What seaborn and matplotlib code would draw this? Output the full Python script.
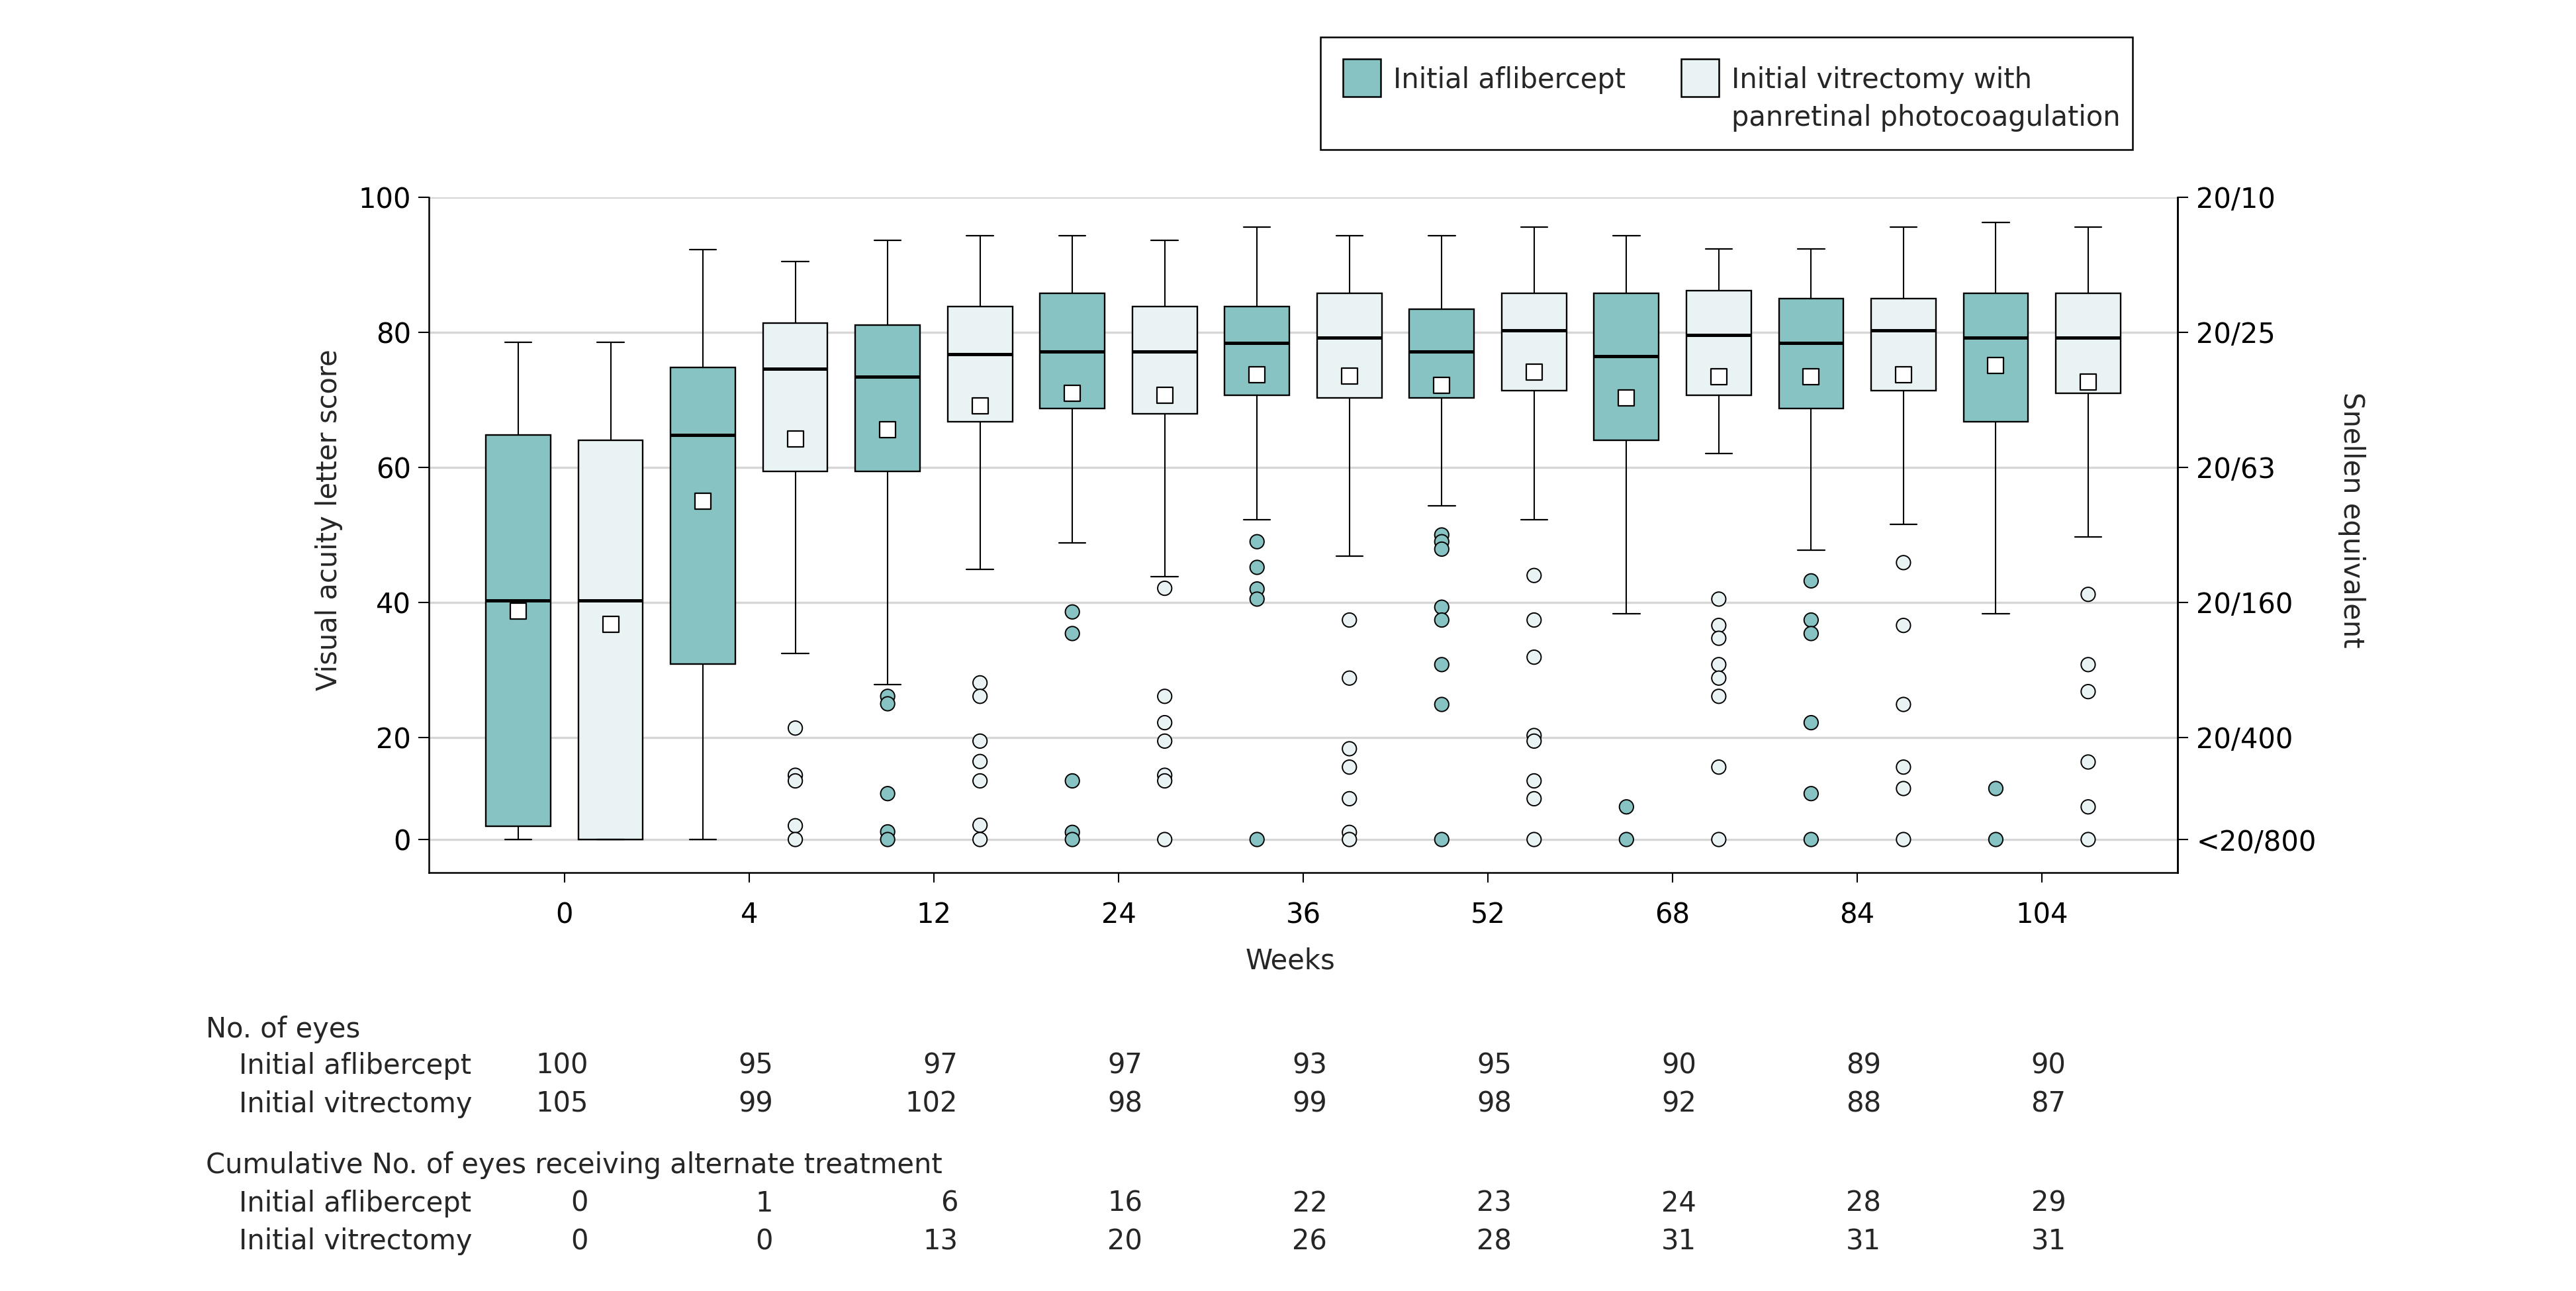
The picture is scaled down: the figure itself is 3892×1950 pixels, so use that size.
import numpy as np
import pandas as pd
import matplotlib
matplotlib.use('Agg')
import matplotlib.pyplot as plt
import matplotlib.transforms as mtransforms
from matplotlib.patches import Rectangle
import seaborn as sns

# --------------
# Data
# --------------
weeks = ['0', '4', '12', '24', '36', '52', '68', '84', '104']

# Initial aflibercept
afl_whishi = [78.5, 92.3, 93.6, 94.3, 95.6, 94.3, 94.3, 92.4, 96.3]
afl_q3 = [64.8, 74.8, 81.1, 85.8, 83.8, 83.4, 85.8, 85.0, 85.8]
afl_med = [40.3, 64.8, 73.4, 77.2, 78.4, 77.2, 76.5, 78.4, 79.2]
afl_mean = [38.7, 55.0, 65.6, 71.0, 73.7, 72.2, 70.3, 73.4, 75.1]
afl_q1 = [2.6, 30.9, 59.4, 68.7, 70.7, 70.3, 64.0, 68.7, 66.8]
afl_whislo = [0, 0, 27.8, 48.8, 52.3, 54.3, 38.3, 47.7, 38.3]
afl_out = [[], [], [26.1, 25.0, 9.0, 1.5, 0],
           [38.6, 35.4, 11.5, 1.4, 0], [49.0, 45.2, 42.0, 40.5, 0],
           [50.0, 49.0, 47.9, 39.3, 37.4, 30.8, 24.9, 0], [6.4, 0],
           [43.2, 37.4, 35.4, 22.2, 9.0, 0], [10.0, 0]]

# Initial vitrectomy with PRP
vit_whishi = [78.5, 90.5, 94.3, 93.6, 94.3, 95.6, 92.4, 95.6, 95.6]
vit_q3 = [64.0, 81.4, 83.8, 83.8, 85.8, 85.8, 86.2, 85.0, 85.8]
vit_med = [40.3, 74.6, 76.8, 77.2, 79.2, 80.3, 79.6, 80.3, 79.2]
vit_mean = [36.8, 64.2, 69.1, 70.7, 73.5, 74.1, 73.4, 73.7, 72.6]
vit_q1 = [0, 59.4, 66.8, 67.9, 70.3, 71.4, 70.7, 71.4, 71.0]
vit_whislo = [0, 32.5, 44.9, 43.8, 46.9, 52.3, 62.1, 51.6, 49.7]
vit_out = [[], [21.4, 12.6, 11.5, 2.7, 0],
           [28.1, 26.1, 19.3, 15.3, 11.5, 2.8, 0],
           [42.1, 26.1, 22.2, 19.3, 12.6, 11.5, 0],
           [37.4, 28.8, 17.8, 14.2, 8.0, 1.4, 0],
           [44.0, 37.4, 31.9, 20.3, 19.3, 11.5, 8.0, 0],
           [40.5, 36.6, 34.7, 30.8, 28.8, 26.1, 14.2, 0],
           [45.9, 36.6, 24.9, 14.2, 10.0, 0],
           [41.2, 30.8, 26.8, 15.2, 6.4, 0]]

# Table below the plot
n_afl = [100, 95, 97, 97, 93, 95, 90, 89, 90]
n_vit = [105, 99, 102, 98, 99, 98, 92, 88, 87]
alt_afl = [0, 1, 6, 16, 22, 23, 24, 28, 29]
alt_vit = [0, 0, 13, 20, 26, 28, 31, 31, 31]

y_ticks = [0, 20, 40, 60, 80, 100]
snellen_labels = ['<20/800', '20/400', '20/160', '20/63', '20/25', '20/10']

col_afl = '#87C3C2'
col_vit = '#EAF3F4'

# --------------
# Setup
# --------------
sns.set_style('white')
plt.rcParams['font.family'] = ['DejaVu Sans']
FS = 30

W, H = 3892, 1950
fig = plt.figure(figsize=(W / 100, H / 100), dpi=100)
ax = fig.add_axes([648 / W, 1 - 1318 / H, (3290 - 648) / W, (1318 - 298) / H])

# y axis is compressed between 0 and 20
K = 0.755


def fwd(v):
    v = np.asarray(v, dtype=float)
    return np.where(v >= 20, v, 20 - (20 - v) * K)


def inv(t):
    t = np.asarray(t, dtype=float)
    return np.where(t >= 20, t, 20 - (20 - t) / K)


off = 0.25
x_afl = np.arange(len(weeks)) - off
x_vit = np.arange(len(weeks)) + off


def make_stats(whislo, q1, med, q3, whishi):
    return [dict(whislo=a, q1=b, med=c, q3=d, whishi=e, fliers=[])
            for a, b, c, d, e in zip(whislo, q1, med, q3, whishi)]


stats_afl = make_stats(afl_whislo, afl_q1, afl_med, afl_q3, afl_whishi)
stats_vit = make_stats(vit_whislo, vit_q1, vit_med, vit_q3, vit_whishi)

for stats, pos, col in [(stats_afl, x_afl, col_afl), (stats_vit, x_vit, col_vit)]:
    ax.bxp(stats, positions=pos, widths=0.35, capwidths=0.145,
           patch_artist=True, showfliers=False, manage_ticks=False,
           boxprops=dict(facecolor=col, edgecolor='black', linewidth=1.7),
           whiskerprops=dict(color='black', linewidth=1.5),
           capprops=dict(color='black', linewidth=1.6),
           medianprops=dict(color='black', linewidth=3.6),
           zorder=3)

# outliers and means with seaborn
rows = []
for i in range(len(weeks)):
    for v in afl_out[i]:
        rows.append((x_afl[i], v, 'afl'))
    for v in vit_out[i]:
        rows.append((x_vit[i], v, 'vit'))
df_out = pd.DataFrame(rows, columns=['x', 'y', 'arm'])
sns.scatterplot(data=df_out, x='x', y='y', hue='arm',
                palette={'afl': col_afl, 'vit': col_vit}, s=235,
                edgecolor='black', linewidth=1.4, legend=False, zorder=4, ax=ax)

df_mean = pd.DataFrame({'x': np.concatenate([x_afl, x_vit]),
                        'y': afl_mean + vit_mean})
sns.scatterplot(data=df_mean, x='x', y='y', marker='s', color='white',
                edgecolor='black', linewidth=1.6, s=300, legend=False,
                zorder=5, ax=ax)

ax.set_yscale('function', functions=(fwd, inv))
ax.set_ylim(inv(0.0), 100)
ax.set_xlim(-0.734, len(weeks) - 1 + 0.734)
ax.set_yticks(y_ticks)
ax.set_yticklabels([str(t) for t in y_ticks], fontsize=FS)
ax.set_xticks(range(len(weeks)))
ax.set_xticklabels(weeks, fontsize=FS)
ax.grid(axis='y', color='#D6D6D6', linewidth=2.4, zorder=0)
ax.set_axisbelow(True)
ax.tick_params(axis='y', length=11.5, width=1.5, pad=8, colors='black', left=True)
ax.tick_params(axis='x', length=11, width=1.5, pad=20, colors='black', bottom=True)
for s in ['left', 'bottom', 'right']:
    ax.spines[s].set_visible(True)
    ax.spines[s].set_color('black')
    ax.spines[s].set_linewidth(1.8)
ax.spines['top'].set_visible(False)
ax.set_xlabel('')
ax.set_ylabel('')

# right axis with Snellen equivalents
ax2 = ax.twinx()
ax2.set_yscale('function', functions=(fwd, inv))
ax2.set_ylim(ax.get_ylim())
ax2.set_yticks(y_ticks)
ax2.set_yticklabels(snellen_labels, fontsize=FS)
ax2.tick_params(axis='y', length=11.5, width=1.5, pad=9, colors='black', right=True)
for s in ['left', 'bottom', 'top']:
    ax2.spines[s].set_visible(False)
ax2.spines['right'].set_color('black')
ax2.spines['right'].set_linewidth(1.8)
ax2.grid(False)

# axis titles
fig.text(497 / W, 1 - 785 / H, 'Visual acuity letter score', rotation=90,
         ha='center', va='center', fontsize=FS)
fig.text(3553 / W, 1 - 785 / H, 'Snellen equivalent', rotation=270,
         ha='center', va='center', fontsize=FS)
fig.text(1949 / W, 1 - 1452 / H, 'Weeks', ha='center', va='center', fontsize=FS)

# table below
trans = mtransforms.blended_transform_factory(ax.transData, fig.transFigure)
table_rows = [('No. of eyes', None, 1555, 311),
              ('Initial aflibercept', n_afl, 1610, 361),
              ('Initial vitrectomy', n_vit, 1668, 361),
              ('Cumulative No. of eyes receiving alternate treatment', None, 1760, 311),
              ('Initial aflibercept', alt_afl, 1818, 361),
              ('Initial vitrectomy', alt_vit, 1875, 361)]
for label, vals, y, x in table_rows:
    fig.text(x / W, 1 - y / H, label, ha='left', va='center', fontsize=FS)
    if vals is not None:
        for i, v in enumerate(vals):
            ax.text(i + 0.13, 1 - y / H, str(v), transform=trans,
                    ha='right', va='center', fontsize=FS)

# legend box drawn by hand so the swatches line up with the first text line
fig.add_artist(Rectangle((1995 / W, 1 - 226 / H), (3222 - 1995) / W, (226 - 56) / H,
                         transform=fig.transFigure, facecolor='white',
                         edgecolor='black', linewidth=1.8))
legend_items = [(col_afl, 2029, 'Initial aflibercept'),
                (col_vit, 2540, 'Initial vitrectomy with\npanretinal photocoagulation')]
for col, x0, lab in legend_items:
    fig.add_artist(Rectangle((x0 / W, 1 - 146 / H), 57 / W, 57 / H,
                             transform=fig.transFigure, facecolor=col,
                             edgecolor='black', linewidth=1.8))
    fig.text((x0 + 76) / W, 1 - 100 / H, lab, ha='left', va='top',
             fontsize=FS, linespacing=1.45)

fig.savefig('out.png', dpi=100, facecolor='white')
plt.close()
